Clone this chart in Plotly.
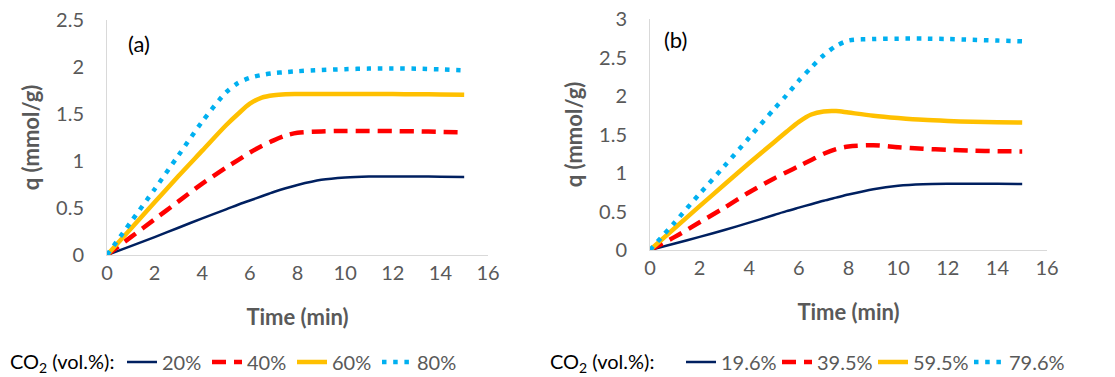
import plotly.graph_objects as go

# ---------------- data ----------------
time_min = [0, 1, 2, 3, 4, 5, 5.5, 6, 6.5, 7, 7.5, 8, 9, 10, 11, 12, 13, 14, 15]

# panel (a)
labels_a = ["20%", "40%", "60%", "80%"]
q_a_20 = [0, 0.095, 0.19, 0.29, 0.39, 0.485, 0.535, 0.58, 0.625, 0.67, 0.71, 0.745, 0.80, 0.825, 0.835, 0.835, 0.835, 0.833, 0.83]
q_a_40 = [0, 0.19, 0.38, 0.57, 0.76, 0.93, 1.01, 1.09, 1.16, 1.22, 1.27, 1.30, 1.315, 1.32, 1.32, 1.318, 1.315, 1.31, 1.305]
q_a_60 = [0, 0.28, 0.56, 0.84, 1.11, 1.38, 1.50, 1.61, 1.675, 1.70, 1.71, 1.712, 1.713, 1.713, 1.712, 1.712, 1.71, 1.708, 1.705]
q_a_80 = [0, 0.35, 0.70, 1.06, 1.42, 1.73, 1.83, 1.885, 1.915, 1.935, 1.945, 1.955, 1.968, 1.977, 1.983, 1.985, 1.982, 1.975, 1.965]

# panel (b)
labels_b = ["19.6%", "39.5%", "59.5%", "79.6%"]
q_b_196 = [0, 0.085, 0.17, 0.26, 0.355, 0.455, 0.505, 0.55, 0.595, 0.64, 0.68, 0.72, 0.79, 0.835, 0.855, 0.86, 0.86, 0.86, 0.858]
q_b_395 = [0, 0.17, 0.36, 0.55, 0.75, 0.93, 1.01, 1.09, 1.17, 1.25, 1.31, 1.345, 1.36, 1.335, 1.315, 1.30, 1.29, 1.283, 1.28]
q_b_595 = [0, 0.285, 0.57, 0.85, 1.13, 1.40, 1.535, 1.665, 1.76, 1.80, 1.805, 1.785, 1.745, 1.715, 1.69, 1.675, 1.665, 1.66, 1.655]
q_b_796 = [0, 0.36, 0.73, 1.09, 1.46, 1.83, 2.01, 2.20, 2.37, 2.53, 2.65, 2.72, 2.74, 2.745, 2.745, 2.74, 2.73, 2.72, 2.71]

x_ticks = [0, 2, 4, 6, 8, 10, 12, 14, 16]

# ---------------- styles ----------------
styles = [
    dict(color="#002060", width=2.5, dash="solid"),
    dict(color="#FF0000", width=4.5, dash="14px,8px"),
    dict(color="#FFC000", width=4.5, dash="solid"),
    dict(color="#00B0F0", width=4.5, dash="4.5px,6.7px"),
]

FONT = "Lato, 'Open Sans', sans-serif"
GRAY = "#595959"

fig = go.Figure()

for lab, q, st in zip(labels_a, [q_a_20, q_a_40, q_a_60, q_a_80], styles):
    fig.add_trace(go.Scatter(x=time_min, y=q, mode="lines", name=lab,
                             line=dict(shape="spline", smoothing=0.8, **st),
                             xaxis="x", yaxis="y", legend="legend"))

for lab, q, st in zip(labels_b, [q_b_196, q_b_395, q_b_595, q_b_796], styles):
    fig.add_trace(go.Scatter(x=time_min, y=q, mode="lines", name=lab,
                             line=dict(shape="spline", smoothing=0.8, **st),
                             xaxis="x2", yaxis="y2", legend="legend2"))

W, H = 1115, 377

def px_x(p):
    return p / W

def px_y(p):
    return 1 - p / H

axis_common = dict(
    showgrid=False, zeroline=False, showline=True, linecolor="#D9D9D9", linewidth=1,
    ticks="", tickfont=dict(family=FONT, size=20, color=GRAY), automargin=False,
)
title_font = dict(family=FONT, size=22, color=GRAY, weight="bold")

fig.update_layout(
    width=W, height=H,
    margin=dict(l=0, r=0, t=0, b=0, autoexpand=False),
    paper_bgcolor="white", plot_bgcolor="white",
    font=dict(family=FONT, size=20, color=GRAY),
    xaxis=dict(domain=[px_x(107), px_x(488)], range=[0, 16], tickvals=x_ticks,
               anchor="y", ticklabelstandoff=0,
               title=dict(text="Time (min)", font=title_font, standoff=26), **axis_common),
    yaxis=dict(domain=[px_y(255), px_y(20)], range=[0, 2.5], dtick=0.5,
               anchor="x", ticklabelstandoff=18,
               title=dict(text="q (mmol/g)", font=title_font, standoff=10), **axis_common),
    xaxis2=dict(domain=[px_x(650), px_x(1047)], range=[0, 16], tickvals=x_ticks,
                anchor="y2", ticklabelstandoff=0,
                title=dict(text="Time (min)", font=title_font, standoff=26), **axis_common),
    yaxis2=dict(domain=[px_y(250), px_y(19)], range=[0, 3], dtick=0.5,
                anchor="x2", ticklabelstandoff=18,
                title=dict(text="q (mmol/g)", font=title_font, standoff=10), **axis_common),
    legend=dict(orientation="h", x=px_x(122), xanchor="left", y=px_y(362), yanchor="middle",
                font=dict(family=FONT, size=20, color=GRAY), entrywidth=40,
                bgcolor="rgba(0,0,0,0)", itemclick=False, tracegroupgap=0),
    legend2=dict(orientation="h", x=px_x(681), xanchor="left", y=px_y(362), yanchor="middle",
                 font=dict(family=FONT, size=20, color=GRAY), entrywidth=51,
                 bgcolor="rgba(0,0,0,0)", itemclick=False, tracegroupgap=0),
    showlegend=True,
    annotations=[
        dict(text="(a)", x=px_x(126), y=px_y(28), xref="paper", yref="paper",
             xanchor="left", showarrow=False, font=dict(family=FONT, size=22, color="black")),
        dict(text="(b)", x=px_x(662), y=px_y(24), xref="paper", yref="paper",
             xanchor="left", showarrow=False, font=dict(family=FONT, size=22, color="black")),
        dict(text="CO<sub>2</sub> (vol.%):", x=px_x(8), y=px_y(362), xref="paper", yref="paper",
             xanchor="left", yanchor="middle", showarrow=False,
             font=dict(family=FONT, size=20, color="black")),
        dict(text="CO<sub>2</sub> (vol.%):", x=px_x(548), y=px_y(362), xref="paper", yref="paper",
             xanchor="left", yanchor="middle", showarrow=False,
             font=dict(family=FONT, size=20, color="black")),
    ],
)

fig.write_html("out.html")
